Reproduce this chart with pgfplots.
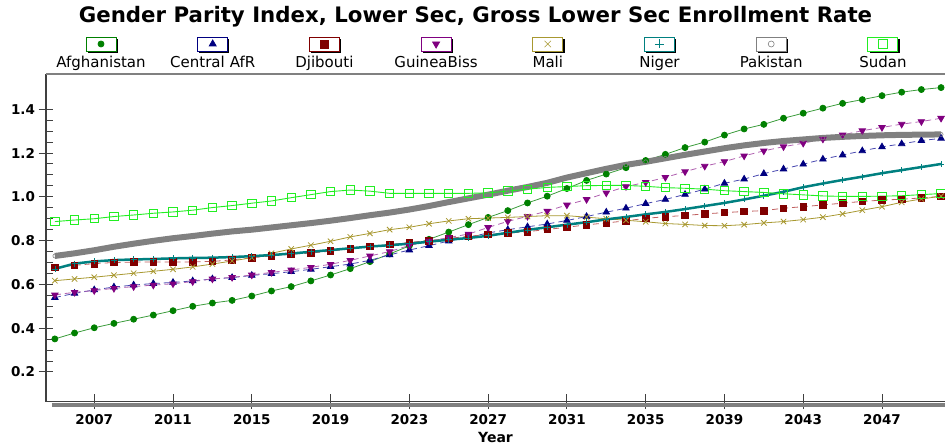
\documentclass[border=0pt]{standalone}
\usepackage{fontspec}
\setmainfont{DejaVu Sans}
\usepackage{pgfplots}
\pgfplotsset{compat=1.18}
\usepackage{pgfplotstable}

\definecolor{afg}{HTML}{008000}
\definecolor{afgl}{HTML}{3C9C3C}
\definecolor{car}{HTML}{000080}
\definecolor{carl}{HTML}{4848B0}
\definecolor{dji}{HTML}{800000}
\definecolor{djil}{HTML}{C06060}
\definecolor{gbs}{HTML}{800080}
\definecolor{gbsl}{HTML}{B060B0}
\definecolor{mali}{HTML}{A89830}
\definecolor{nig}{HTML}{008080}
\definecolor{pak}{HTML}{808080}
\definecolor{sud}{HTML}{22EE22}
\definecolor{axc}{HTML}{404040}

\newcommand\mylegbox[2]{%
  \begin{scope}[overlay, solid]
    \path[fill=black, draw=none] (42.6pt,10.7pt) rectangle (72.6pt,24.7pt);
    \path[draw=#1, solid, line width=0.9pt, fill=white] (40.85pt,12.5pt) rectangle (70.85pt,26.5pt);
    \draw[#1, solid, line width=0.8pt] plot[#2] coordinates {(55.85pt,19.5pt)};
  \end{scope}}

\pgfplotsset{legbox/.style 2 args={legend image code/.code={\mylegbox{#1}{#2}}}}

\pgfplotstableread{
year afg car dji gbs mali nig pak sud
2005 0.351 0.540 0.678 0.552 0.617 0.671 0.730 0.887
2006 0.378 0.559 0.687 0.564 0.625 0.695 0.742 0.894
2007 0.402 0.575 0.695 0.572 0.633 0.705 0.756 0.900
2008 0.422 0.588 0.700 0.582 0.642 0.711 0.772 0.910
2009 0.441 0.597 0.702 0.590 0.651 0.714 0.786 0.917
2010 0.460 0.604 0.702 0.597 0.660 0.716 0.799 0.925
2011 0.480 0.609 0.702 0.603 0.669 0.719 0.811 0.931
2012 0.500 0.616 0.703 0.613 0.680 0.721 0.821 0.939
2013 0.515 0.625 0.705 0.625 0.693 0.722 0.832 0.951
2014 0.527 0.631 0.712 0.632 0.707 0.725 0.842 0.960
2015 0.547 0.641 0.722 0.643 0.722 0.729 0.850 0.971
2016 0.570 0.649 0.730 0.655 0.742 0.734 0.860 0.981
2017 0.590 0.658 0.738 0.666 0.762 0.741 0.870 0.996
2018 0.616 0.669 0.743 0.678 0.779 0.749 0.880 1.010
2019 0.643 0.681 0.752 0.692 0.797 0.757 0.891 1.024
2020 0.672 0.693 0.762 0.710 0.817 0.765 0.903 1.031
2021 0.704 0.710 0.773 0.730 0.833 0.773 0.916 1.026
2022 0.739 0.735 0.782 0.750 0.850 0.779 0.928 1.016
2023 0.776 0.757 0.792 0.778 0.861 0.786 0.942 1.016
2024 0.806 0.777 0.800 0.798 0.877 0.795 0.958 1.016
2025 0.839 0.798 0.810 0.814 0.890 0.804 0.976 1.016
2026 0.873 0.815 0.820 0.830 0.900 0.812 0.993 1.016
2027 0.906 0.835 0.828 0.860 0.903 0.822 1.010 1.018
2028 0.937 0.850 0.834 0.888 0.906 0.836 1.028 1.026
2029 0.972 0.863 0.841 0.911 0.910 0.849 1.045 1.035
2030 1.003 0.876 0.851 0.935 0.914 0.861 1.064 1.043
2031 1.038 0.892 0.861 0.963 0.914 0.873 1.088 1.047
2032 1.075 0.910 0.872 0.988 0.907 0.884 1.108 1.051
2033 1.104 0.930 0.881 1.018 0.900 0.897 1.128 1.052
2034 1.133 0.948 0.890 1.047 0.893 0.908 1.146 1.052
2035 1.166 0.969 0.902 1.066 0.886 0.920 1.160 1.048
2036 1.194 0.988 0.909 1.089 0.878 0.931 1.176 1.042
2037 1.225 1.011 0.915 1.115 0.874 0.944 1.192 1.039
2038 1.250 1.035 0.922 1.140 0.869 0.958 1.207 1.035
2039 1.282 1.062 0.928 1.161 0.868 0.972 1.222 1.028
2040 1.310 1.081 0.933 1.187 0.873 0.988 1.235 1.024
2041 1.331 1.106 0.937 1.210 0.881 1.005 1.246 1.020
2042 1.359 1.127 0.948 1.229 0.887 1.023 1.255 1.014
2043 1.382 1.149 0.955 1.245 0.896 1.044 1.262 1.009
2044 1.405 1.172 0.963 1.264 0.907 1.061 1.269 1.004
2045 1.427 1.191 0.971 1.283 0.922 1.077 1.274 1.002
2046 1.444 1.210 0.979 1.302 0.939 1.092 1.278 1.002
2047 1.462 1.228 0.985 1.317 0.955 1.108 1.281 1.003
2048 1.478 1.242 0.989 1.332 0.975 1.122 1.283 1.005
2049 1.490 1.257 0.995 1.344 0.990 1.136 1.284 1.010
2050 1.499 1.267 1.002 1.359 1.003 1.150 1.285 1.015
}\data

\begin{document}
\begin{tikzpicture}
\begin{axis}[
  scale only axis,
  width=899pt, height=327.7pt,
  xmin=2004.55, xmax=2050.2,
  ymin=0.0643, ymax=1.561,
  clip=false,
  axis lines*=left,
  axis line style={axc, line width=1.2pt},
  tick style={axc, line width=1pt},
  tick align=center,
  major tick length=15pt,
  minor tick length=7pt,
  minor y tick style={xshift=3.5pt},
  xtick={2007,2011,...,2047},
  ytick={0.2,0.4,...,1.41},
  minor y tick num=3,
  /pgf/number format/assume math mode=true,
  ticklabel style={font=\fontsize{13.5}{16}\selectfont\bfseries},
  xticklabel style={/pgf/number format/1000 sep={}, yshift=-2pt},
  yticklabel style={/pgf/number format/.cd, fixed, fixed zerofill, precision=1},
  xlabel={Year},
  xlabel style={font=\fontsize{14}{16}\selectfont\bfseries, yshift=0pt},
  legend columns=8,
  legend style={
    at={(0,1)}, anchor=west, xshift=-0.85pt, yshift=10.5pt,
    draw=none, fill=none, inner sep=0pt, outer sep=0pt,
    column sep=0pt,
    cells={anchor=center},
    nodes={inner sep=0pt, text width=111.7pt, align=center,
           text height=11pt, text depth=3.5pt,
           font=\fontsize{15}{17}\selectfont},
  },
]
\addplot[afgl, line width=0.8pt, mark=*, mark size=3pt, mark options={solid, draw=afg, fill=afg},
  legbox={afg}{mark=*, mark size=3pt, mark options={draw=afg, fill=afg}}]
  table[x=year, y=afg] {\data};
\addlegendentry{Afghanistan}
\addplot[carl, line width=0.8pt, dash pattern=on 6pt off 4pt, mark=triangle*, mark size=3.7pt, mark options={solid, draw=car, fill=car},
  legbox={car}{mark=triangle*, mark size=4pt, mark options={draw=car, fill=car}}]
  table[x=year, y=car] {\data};
\addlegendentry{Central AfR}
\addplot[djil, line width=0.8pt, dash pattern=on 6pt off 4pt, mark=square*, mark size=3.3pt, mark options={solid, draw=dji, fill=dji},
  legbox={dji}{mark=square*, mark size=4pt, mark options={draw=dji, fill=dji}}]
  table[x=year, y=dji] {\data};
\addlegendentry{Djibouti}
\addplot[gbsl, line width=0.8pt, dash pattern=on 6pt off 4pt, mark=triangle*, mark size=3.7pt, mark options={solid, rotate=180, draw=gbs, fill=gbs},
  legbox={gbs}{mark=triangle*, mark size=4pt, mark options={rotate=180, draw=gbs, fill=gbs}}]
  table[x=year, y=gbs] {\data};
\addlegendentry{GuineaBiss}
\addplot[mali, line width=0.8pt, mark=x, mark size=3.8pt, mark options={solid, line width=0.8pt},
  legbox={mali}{mark=x, mark size=4.5pt, mark options={line width=0.6pt}}]
  table[x=year, y=mali] {\data};
\addlegendentry{Mali}
\addplot[nig, line width=2.5pt, mark=+, mark size=3pt, mark options={solid, line width=0.7pt},
  legbox={nig}{mark=+, mark size=4.5pt, mark options={line width=0.6pt}}]
  table[x=year, y=nig] {\data};
\addlegendentry{Niger}
\addplot[pak, line width=6pt, mark=o, mark size=2pt, mark options={solid, line width=0.6pt},
  legbox={pak}{mark=o, mark size=3pt, mark options={line width=0.6pt}}]
  table[x=year, y=pak] {\data};
\addlegendentry{Pakistan}
\addplot[sud, line width=0.9pt, mark=square, mark size=4.2pt, mark options={solid, line width=0.9pt},
  legbox={sud}{mark=square, mark size=4.2pt, mark options={line width=0.9pt}}]
  table[x=year, y=sud] {\data};
\addlegendentry{Sudan}

\draw[pak, line width=4.5pt] ([xshift=6pt,yshift=-3.05pt]rel axis cs:0,0) -- ([yshift=-3.05pt]rel axis cs:1,0);
\draw[pak, line width=1.4pt] (rel axis cs:0,1) -- (rel axis cs:1,1);
\node[font=\fontsize{21.3}{24}\selectfont\bfseries] at (rel axis cs:0.4778,1.1739) {Gender Parity Index, Lower Sec, Gross Lower Sec Enrollment Rate};
\end{axis}
\pgfresetboundingbox
\useasboundingbox ([xshift=-46pt,yshift=-43.3pt]current axis.south west) rectangle ([yshift=74pt]current axis.north east);
\end{tikzpicture}
\end{document}
